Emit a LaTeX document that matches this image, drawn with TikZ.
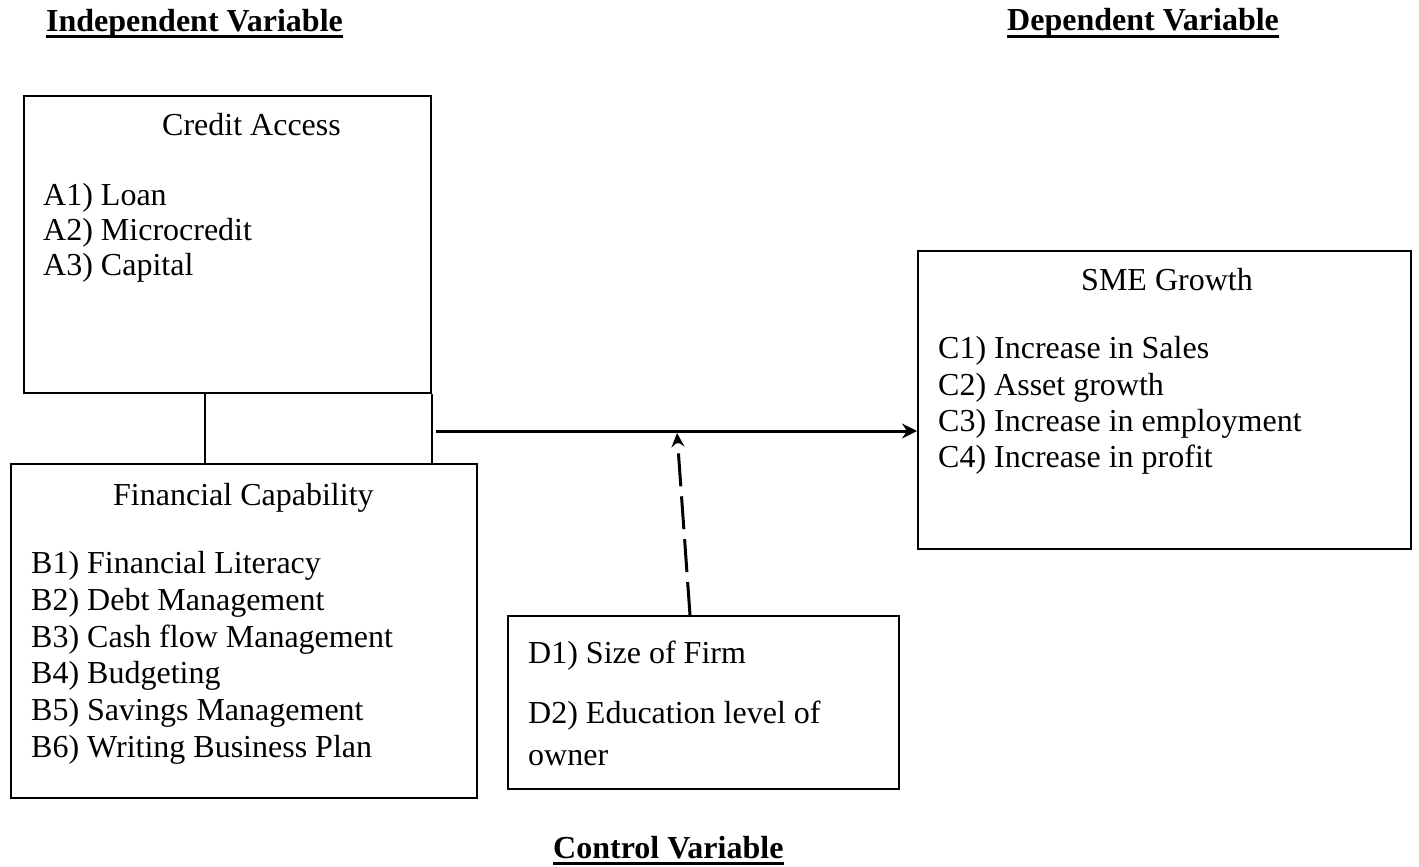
\documentclass[tikz,border=0pt]{standalone}
\usepackage{fontspec}
\setmainfont{Liberation Serif}
\usetikzlibrary{arrows.meta}
\begin{document}
\begin{tikzpicture}[x=1pt,y=-1pt,
  box/.style={draw,line width=2pt,rectangle,anchor=north west,inner sep=0pt},
  txt/.style={anchor=base west,inner sep=0pt,font=\fontsize{32}{36.8}\selectfont},
  ttl/.style={anchor=base west,inner sep=0pt,font=\fontsize{32}{36.8}\selectfont\bfseries},
  uline/.style={line width=3pt},
  link/.style={line width=2pt},
  arr/.style={line width=3pt,-{Stealth[length=15pt,width=15pt,inset=5pt]}},
  darr/.style={line width=3pt,dash pattern=on 33pt off 10pt,-{Stealth[length=14pt,width=13pt,inset=5pt]}}]
\useasboundingbox (0,0) rectangle (1419,867);

% headings
\node[ttl] (hi) at (46,32) {Independent Variable};
\node[ttl] (hd) at (1007,31) {Dependent Variable};
\node[ttl] (hc) at (553,858) {Control Variable};
\draw[uline] ([yshift=-5pt]hi.base west) -- ([yshift=-5pt]hi.base east);
\draw[uline] ([yshift=-6pt]hd.base west) -- ([yshift=-6pt]hd.base east);
\draw[uline] ([yshift=-5pt]hc.base west) -- ([yshift=-5pt]hc.base east);

% boxes
\node[box,minimum width=407pt,minimum height=297pt] (ca) at (23,95) {};
\node[box,minimum width=466pt,minimum height=334pt] (fc) at (10,463) {};
\node[box,minimum width=493pt,minimum height=298pt] (sme) at (917,250) {};
\node[box,minimum width=391pt,minimum height=173pt] (dv) at (507,615) {};

% Credit Access
\node[txt] (cat) at (162,135) {Credit Access};
\node[txt] (a1) at (43,205) {A1) Loan};
\node[txt] (a2) at (43,240) {A2) Microcredit};
\node[txt] (a3) at (43,275) {A3) Capital};

% Financial Capability
\node[txt] (fct) at (113,505) {Financial Capability};
\node[txt] (b1) at (31,573) {B1) Financial Literacy};
\node[txt] (b2) at (31,610) {B2) Debt Management};
\node[txt] (b3) at (31,647) {B3) Cash flow Management};
\node[txt] (b4) at (31,683) {B4) Budgeting};
\node[txt] (b5) at (31,720) {B5) Savings Management};
\node[txt] (b6) at (31,757) {B6) Writing Business Plan};

% SME Growth
\node[txt] (smet) at (1081,290) {SME Growth};
\node[txt] (c1) at (938,358) {C1) Increase in Sales};
\node[txt] (c2) at (938,395) {C2) Asset growth};
\node[txt] (c3) at (938,431) {C3) Increase in employment};
\node[txt] (c4) at (938,467) {C4) Increase in profit};

% Control
\node[txt] (d1) at (528,663) {D1) Size of Firm};
\node[txt] (d2) at (528,723) {D2) Education level of};
\node[txt] (d3) at (528,765) {owner};

% connectors
\coordinate (v1) at (205,0);
\draw[link] (ca.south -| v1) -- (fc.north -| v1);
\draw[link] (ca.south east) -- (fc.north -| ca.south east);

\coordinate (hs) at (436,431);
\draw[arr] (hs) -- (hs -| sme.west);

\coordinate (ds) at (690,0);
\coordinate (de) at (677,433);
\draw[darr] (dv.north -| ds) -- (de);
\end{tikzpicture}
\end{document}
